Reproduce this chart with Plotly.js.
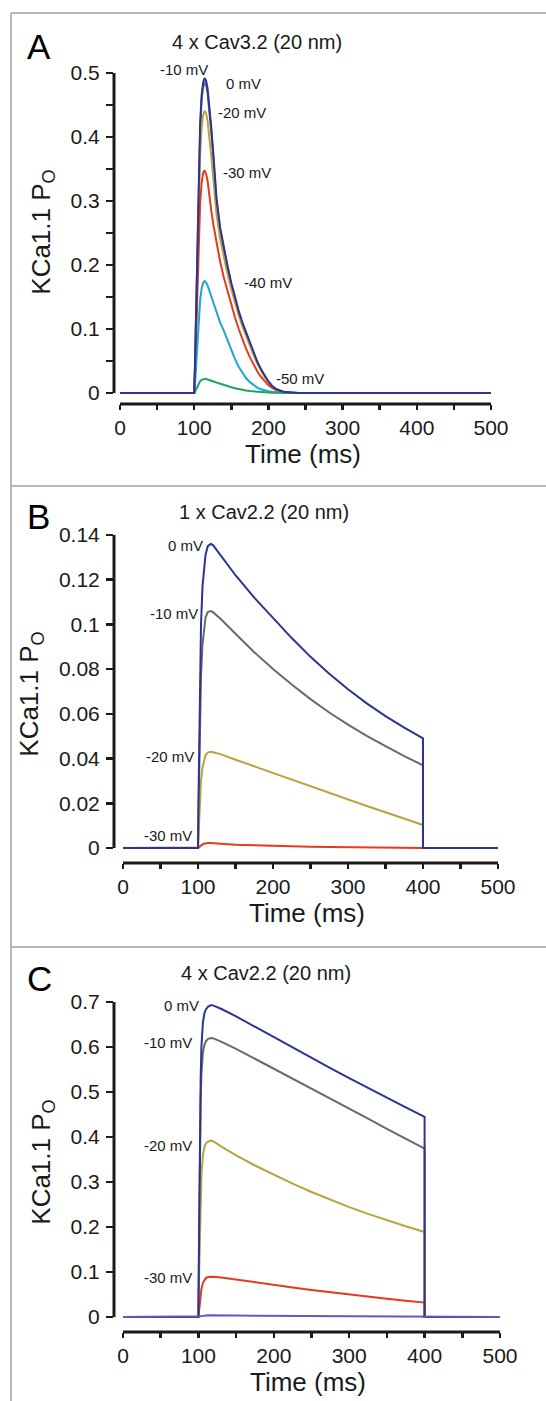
<!DOCTYPE html>
<html>
<head>
<meta charset="utf-8">
<script src="https://cdn.plot.ly/plotly-3.0.1.min.js"></script>
<style>html,body{margin:0;padding:0;background:#fff;}#chart{width:546px;height:1401px;}</style>
</head>
<body>
<div id="chart"></div>
<script>
// ---------- Panel A: 4 x Cav3.2 (20 nm) ----------
const timeA = [0, 100, 101, 102, 103, 104, 106, 108, 110, 112, 114, 116, 118, 120, 123, 126, 130, 135, 140, 145, 150, 155, 160, 165, 170, 175, 180, 185, 190, 195, 200, 205, 210, 220, 230, 240, 500];
const A_0mV   = [0, 0, 0.04, 0.1, 0.17, 0.24, 0.35, 0.42, 0.465, 0.485, 0.492, 0.488, 0.476, 0.455, 0.415, 0.37, 0.305, 0.258, 0.225, 0.198, 0.172, 0.148, 0.128, 0.11, 0.094, 0.078, 0.063, 0.049, 0.037, 0.027, 0.018, 0.011, 0.0065, 0.002, 0.0006, 0, 0];
const A_m10mV = [0, 0, 0.039, 0.098, 0.167, 0.236, 0.344, 0.413, 0.458, 0.478, 0.485, 0.481, 0.469, 0.448, 0.408, 0.364, 0.3, 0.254, 0.222, 0.195, 0.169, 0.146, 0.126, 0.108, 0.092, 0.077, 0.062, 0.048, 0.036, 0.026, 0.0175, 0.0105, 0.006, 0.0019, 0.0005, 0, 0];
const A_m20mV = [0, 0, 0.035, 0.088, 0.15, 0.213, 0.31, 0.374, 0.415, 0.434, 0.441, 0.437, 0.425, 0.405, 0.37, 0.332, 0.28, 0.24, 0.21, 0.185, 0.162, 0.14, 0.121, 0.104, 0.088, 0.073, 0.059, 0.046, 0.035, 0.025, 0.017, 0.0105, 0.006, 0.0018, 0.0005, 0, 0];
const A_m30mV = [0, 0, 0.028, 0.07, 0.12, 0.168, 0.245, 0.297, 0.328, 0.344, 0.348, 0.342, 0.332, 0.31, 0.285, 0.262, 0.236, 0.205, 0.18, 0.158, 0.138, 0.118, 0.1, 0.084, 0.069, 0.056, 0.044, 0.034, 0.025, 0.018, 0.012, 0.008, 0.005, 0.0015, 0.0004, 0, 0];
const A_m40mV = [0, 0, 0.012, 0.03, 0.052, 0.075, 0.115, 0.145, 0.163, 0.172, 0.175, 0.173, 0.168, 0.161, 0.15, 0.138, 0.124, 0.11, 0.097, 0.082, 0.067, 0.053, 0.041, 0.031, 0.023, 0.017, 0.012, 0.0085, 0.0058, 0.004, 0.0027, 0.0018, 0.0012, 0.0005, 0.0002, 0, 0];
const A_m50mV = [0, 0, 0.0015, 0.004, 0.007, 0.01, 0.015, 0.0185, 0.0205, 0.0215, 0.022, 0.0218, 0.0212, 0.0205, 0.0193, 0.018, 0.0163, 0.0142, 0.0123, 0.0105, 0.0089, 0.0074, 0.006, 0.0048, 0.0038, 0.003, 0.0023, 0.0017, 0.0012, 0.0009, 0.0006, 0.0004, 0.0003, 0.0001, 0, 0, 0];

// ---------- Panel B: 1 x Cav2.2 (20 nm) ----------
const timeB = [0, 100, 101, 102, 103, 104, 106, 108, 110, 113, 117, 120, 130, 150, 175, 200, 225, 250, 275, 300, 325, 350, 375, 400, 400, 500];
const B_0mV   = [0, 0, 0.03, 0.06, 0.085, 0.1, 0.117, 0.126, 0.131, 0.135, 0.136, 0.1355, 0.131, 0.122, 0.112, 0.103, 0.0939, 0.0855, 0.0779, 0.071, 0.0647, 0.059, 0.0538, 0.049, 0, 0];
const B_m10mV = [0, 0, 0.022, 0.045, 0.064, 0.077, 0.091, 0.099, 0.103, 0.1055, 0.106, 0.1055, 0.1025, 0.0958, 0.0876, 0.0801, 0.0731, 0.0666, 0.0606, 0.0552, 0.0502, 0.0456, 0.0411, 0.037, 0, 0];
const B_m20mV = [0, 0, 0.008, 0.017, 0.025, 0.03, 0.036, 0.0395, 0.0415, 0.0427, 0.043, 0.0428, 0.042, 0.0395, 0.0365, 0.0335, 0.0305, 0.0275, 0.0246, 0.0218, 0.0188, 0.016, 0.0131, 0.0103, 0, 0];
const B_m30mV = [0, 0, 0.0002, 0.0005, 0.0009, 0.0012, 0.0016, 0.0019, 0.0021, 0.0022, 0.0022, 0.0021, 0.0019, 0.0015, 0.0012, 0.0009, 0.0007, 0.0006, 0.0005, 0.0004, 0.00035, 0.0003, 0.00025, 0.0002, 0, 0];

// ---------- Panel C: 4 x Cav2.2 (20 nm) ----------
const timeC = [0, 100, 101, 102, 103, 104, 106, 108, 110, 113, 117, 120, 130, 150, 175, 200, 225, 250, 275, 300, 325, 350, 375, 400, 400, 500];
const C_0mV   = [0, 0, 0.2, 0.4, 0.53, 0.6, 0.655, 0.675, 0.684, 0.69, 0.693, 0.692, 0.685, 0.668, 0.645, 0.621, 0.598, 0.575, 0.553, 0.531, 0.509, 0.488, 0.466, 0.445, 0, 0];
const C_m10mV = [0, 0, 0.18, 0.36, 0.475, 0.54, 0.588, 0.605, 0.613, 0.618, 0.62, 0.619, 0.612, 0.596, 0.574, 0.552, 0.529, 0.507, 0.485, 0.463, 0.441, 0.418, 0.396, 0.374, 0, 0];
const C_m20mV = [0, 0, 0.1, 0.2, 0.27, 0.315, 0.36, 0.378, 0.386, 0.39, 0.392, 0.39, 0.379, 0.359, 0.3367, 0.3158, 0.2962, 0.2778, 0.2605, 0.2443, 0.2292, 0.2149, 0.2016, 0.189, 0, 0];
const C_m30mV = [0, 0, 0.015, 0.035, 0.05, 0.062, 0.076, 0.083, 0.087, 0.089, 0.09, 0.0895, 0.088, 0.083, 0.077, 0.071, 0.0655, 0.06, 0.0548, 0.0498, 0.0452, 0.0407, 0.0363, 0.032, 0, 0];
const C_m40mV = [0, 0, 0.0005, 0.001, 0.0016, 0.002, 0.0028, 0.0033, 0.0036, 0.0038, 0.0039, 0.0038, 0.0036, 0.0032, 0.0028, 0.0025, 0.0022, 0.0019, 0.0017, 0.0015, 0.0013, 0.0012, 0.0011, 0.001, 0, 0];

// ---------- tick labels / titles ----------
const xTicks = [0, 100, 200, 300, 400, 500];
const xTickText = ['0', '100', '200', '300', '400', '500'];
const yTicksA = [0, 0.1, 0.2, 0.3, 0.4, 0.5];
const yTickTextA = ['0', '0.1', '0.2', '0.3', '0.4', '0.5'];
const yTicksB = [0, 0.02, 0.04, 0.06, 0.08, 0.1, 0.12, 0.14];
const yTickTextB = ['0', '0.02', '0.04', '0.06', '0.08', '0.1', '0.12', '0.14'];
const yTicksC = [0, 0.1, 0.2, 0.3, 0.4, 0.5, 0.6, 0.7];
const yTickTextC = ['0', '0.1', '0.2', '0.3', '0.4', '0.5', '0.6', '0.7'];
const panelTitles = ['4 x Cav3.2 (20 nm)', '1 x Cav2.2 (20 nm)', '4 x Cav2.2 (20 nm)'];
const panelLetters = ['A', 'B', 'C'];
const xTitle = 'Time (ms)';
const yTitle = 'KCa1.1 P<sub>O</sub>';

// curve labels: [text, time, value]
const labelsA = [['-10 mV', 86, 0.505], ['0 mV', 166, 0.484], ['-20 mV', 165, 0.4375], ['-30 mV', 171, 0.344], ['-40 mV', 199, 0.173], ['-50 mV', 243, 0.022]];
const labelsB = [['0 mV', 83, 0.1355], ['-10 mV', 68, 0.1047], ['-20 mV', 62, 0.0407], ['-30 mV', 60, 0.0058]];
const labelsC = [['0 mV', 78, 0.693], ['-10 mV', 60, 0.611], ['-20 mV', 60, 0.382], ['-30 mV', 60, 0.087]];

// ---------- styling ----------
const FONT = 'Liberation Sans, Arial, Helvetica, sans-serif';
const INK = '#1a1a1a';
const COL = {
  n0: '#2b3494', n10: '#6a6a6a', n20: '#b5a53c', n30: '#e8391f', n40: '#1ea5d3', n50: '#1fa65a', c40: '#5b5bc8'
};
const W = 546, H = 1401;
const px = v => v / W;
const py = v => 1 - v / H;

function line(x, y, color, xa, ya, name) {
  return {x: x, y: y, xaxis: xa, yaxis: ya, type: 'scatter', mode: 'lines', name: name,
          line: {color: color, width: 2}, hoverinfo: 'skip', showlegend: false};
}

const data = [
  line(timeA, A_m10mV, COL.n10, 'x', 'y', '-10 mV'),
  line(timeA, A_m20mV, COL.n20, 'x', 'y', '-20 mV'),
  line(timeA, A_m30mV, COL.n30, 'x', 'y', '-30 mV'),
  line(timeA, A_m40mV, COL.n40, 'x', 'y', '-40 mV'),
  line(timeA, A_m50mV, COL.n50, 'x', 'y', '-50 mV'),
  line(timeA, A_0mV, COL.n0, 'x', 'y', '0 mV'),

  line(timeB, B_m10mV, COL.n10, 'x2', 'y2', '-10 mV'),
  line(timeB, B_m20mV, COL.n20, 'x2', 'y2', '-20 mV'),
  line(timeB, B_m30mV, COL.n30, 'x2', 'y2', '-30 mV'),
  line(timeB, B_0mV, COL.n0, 'x2', 'y2', '0 mV'),

  line(timeC, C_m10mV, COL.n10, 'x3', 'y3', '-10 mV'),
  line(timeC, C_m20mV, COL.n20, 'x3', 'y3', '-20 mV'),
  line(timeC, C_m30mV, COL.n30, 'x3', 'y3', '-30 mV'),
  line(timeC, C_0mV, COL.n0, 'x3', 'y3', '0 mV'),
  line(timeC, C_m40mV, COL.c40, 'x3', 'y3', '-40 mV')
];

function xAxis(domPx, range, anchor) {
  return {
    domain: [px(domPx[0]), px(domPx[1])], range: range, anchor: anchor,
    showgrid: false, zeroline: false, showline: false,
    tickmode: 'array', tickvals: xTicks, ticktext: xTickText,
    ticks: 'outside', ticklen: 5, tickwidth: 2.5, tickcolor: INK,
    minor: {tickmode: 'linear', tick0: 0, dtick: 50, ticks: 'outside', ticklen: 5, tickwidth: 2.5, tickcolor: INK},
    tickfont: {family: FONT, size: 21, color: INK},
    title: {text: xTitle, font: {family: FONT, size: 26, color: INK}, standoff: 2},
    fixedrange: true
  };
}
function yAxis(domPx, range, anchor, vals, text, minorDt) {
  const ax = {
    domain: [py(domPx[1]), py(domPx[0])], range: range, anchor: anchor,
    showgrid: false, zeroline: false, showline: false,
    tickmode: 'array', tickvals: vals, ticktext: text,
    ticks: 'outside', ticklen: 7, tickwidth: 2.5, tickcolor: INK,
    ticklabelstandoff: 2,
    tickfont: {family: FONT, size: 21, color: INK},
    title: {text: yTitle, font: {family: FONT, size: 26, color: INK}, standoff: 12},
    fixedrange: true
  };
  if (minorDt) ax.minor = {tickmode: 'linear', tick0: 0, dtick: minorDt, ticks: 'outside', ticklen: 7, tickwidth: 2.5, tickcolor: INK};
  return ax;
}

// y domains extend a bit above the top tick so labels near the peak remain visible
const layout = {
  width: W, height: H,
  margin: {l: 0, r: 0, t: 0, b: 0},
  paper_bgcolor: '#ffffff', plot_bgcolor: 'rgba(0,0,0,0)',
  showlegend: false,
  font: {family: FONT, color: INK},
  xaxis:  xAxis([114, 492], [-8.09, 501.35], 'y'),
  yaxis:  yAxis([60, 404], [-0.01719, 0.5203], 'x', yTicksA, yTickTextA, 0.05),
  xaxis2: xAxis([114, 500], [-12, 502.67], 'y2'),
  yaxis2: yAxis([525, 863], [-0.00671, 0.14447], 'x2', yTicksB, yTickTextB, null),
  xaxis3: xAxis([114, 502], [-11.94, 502.65], 'y3'),
  yaxis3: yAxis([992, 1332], [-0.0333, 0.7222], 'x3', yTicksC, yTickTextC, null),
  shapes: [],
  annotations: []
};

// panel frame lines
const frameCol = '#a0a0a0';
layout.shapes.push({type: 'line', xref: 'paper', yref: 'paper', x0: px(11), x1: 1, y0: py(13), y1: py(13), line: {color: frameCol, width: 1.5}});
layout.shapes.push({type: 'line', xref: 'paper', yref: 'paper', x0: px(11), x1: px(11), y0: py(13), y1: 0, line: {color: frameCol, width: 1.5}});
layout.shapes.push({type: 'line', xref: 'paper', yref: 'paper', x0: px(11), x1: 1, y0: py(486), y1: py(486), line: {color: frameCol, width: 1.5}});
layout.shapes.push({type: 'line', xref: 'paper', yref: 'paper', x0: px(11), x1: 1, y0: py(947), y1: py(947), line: {color: frameCol, width: 1.5}});

// axis lines (y line spans 0..max, x line spans 0..500)
const axes = [['x', 'y', 0.5], ['x2', 'y2', 0.14], ['x3', 'y3', 0.7]];
axes.forEach(([xa, ya, ymax]) => {
  layout.shapes.push({type: 'line', xref: xa + ' domain', yref: ya, x0: 0, x1: 0, y0: 0, y1: ymax, line: {color: INK, width: 3}});
  layout.shapes.push({type: 'line', xref: xa, yref: ya + ' domain', x0: 0, x1: 500, y0: 0, y1: 0, line: {color: INK, width: 3}});
});

// panel titles and letters
const titlePos = [[257, 42], [264, 512], [266, 973]];
const letterPos = [[39, 47], [38, 516], [39, 978]];
for (let i = 0; i < 3; i++) {
  layout.annotations.push({text: panelTitles[i], xref: 'paper', yref: 'paper', x: px(titlePos[i][0]), y: py(titlePos[i][1]),
    xanchor: 'center', yanchor: 'middle', showarrow: false, font: {family: FONT, size: 20, color: INK}});
  layout.annotations.push({text: panelLetters[i], xref: 'paper', yref: 'paper', x: px(letterPos[i][0]), y: py(letterPos[i][1]),
    xanchor: 'center', yanchor: 'middle', showarrow: false, font: {family: FONT, size: 35, color: '#000'}});
}

// curve labels
[[labelsA, 'x', 'y'], [labelsB, 'x2', 'y2'], [labelsC, 'x3', 'y3']].forEach(([labs, xa, ya]) => {
  labs.forEach(([t, xv, yv]) => {
    layout.annotations.push({text: t, xref: xa, yref: ya, x: xv, y: yv, xanchor: 'center', yanchor: 'middle',
      showarrow: false, font: {family: FONT, size: 15, color: INK}});
  });
});

Plotly.newPlot('chart', data, layout, {staticPlot: true, displayModeBar: false});
</script>
</body>
</html>
